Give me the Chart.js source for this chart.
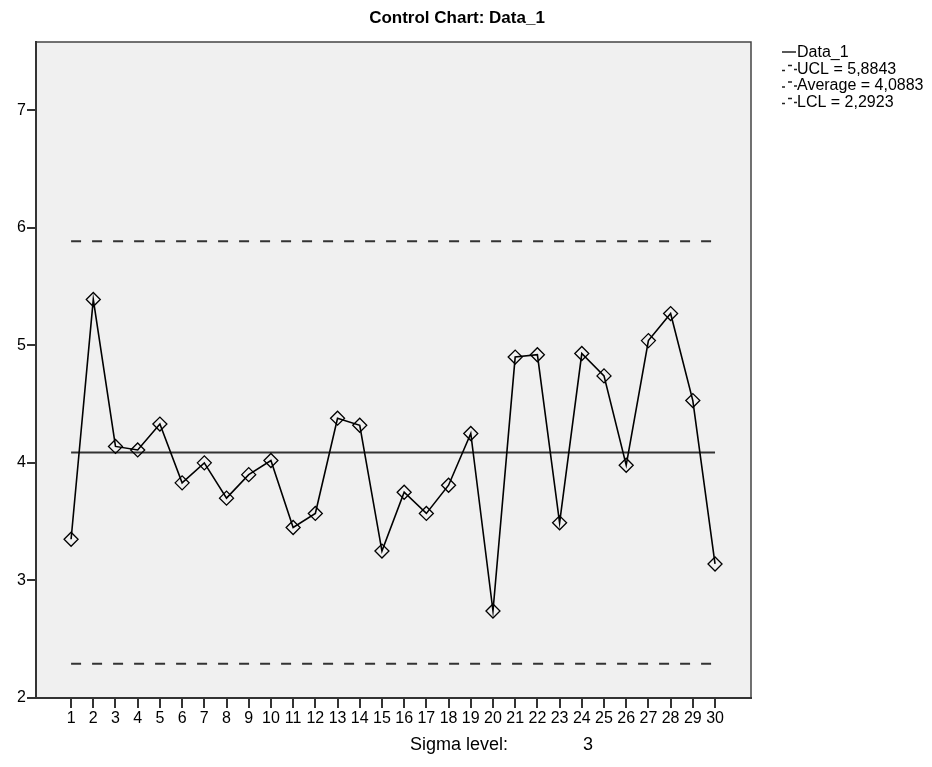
<!DOCTYPE html>
<html>
<head>
<meta charset="utf-8">
<script src="https://cdn.jsdelivr.net/npm/chart.js@4/dist/chart.umd.min.js"></script>
<style>
  body { margin: 0; background: #fff; }
  #wrap { width: 932px; height: 767px; }
</style>
</head>
<body>
<div id="wrap"><canvas id="control_chart" width="932" height="767"></canvas></div>
<script>
// samples 1..30
const samples = [1, 2, 3, 4, 5, 6, 7, 8, 9, 10, 11, 12, 13, 14, 15,
  16, 17, 18, 19, 20, 21, 22, 23, 24, 25, 26, 27, 28, 29, 30];
const data1 = [3.35, 5.39, 4.14, 4.11, 4.33, 3.83, 4.00, 3.70, 3.90, 4.02,
  3.45, 3.57, 4.38, 4.32, 3.25, 3.75, 3.57, 3.81, 4.25, 2.74,
  4.90, 4.92, 3.49, 4.93, 4.74, 3.98, 5.04, 5.27, 4.53, 3.14];
const ucl = 5.8843;
const average = 4.0883;
const lcl = 2.2923;
const yTicks = [2, 3, 4, 5, 6, 7];
const sigmaLevel = 3;

const FONT = "'Liberation Sans', Arial, sans-serif";

function limitLine(v) {
  return [{ x: samples[0], y: v }, { x: samples[samples.length - 1], y: v }];
}

const frame = {
  id: "frame",
  beforeDraw(chart) {
    const { ctx, chartArea: a } = chart;
    ctx.save();
    ctx.fillStyle = "#f0f0f0";
    ctx.fillRect(a.left, a.top, a.right - a.left, a.bottom - a.top);
    ctx.strokeStyle = "#444";
    ctx.lineWidth = 1.5;
    ctx.strokeRect(a.left, a.top, a.right - a.left, a.bottom - a.top);
    ctx.restore();
  },
  afterDraw(chart) {
    const ctx = chart.ctx;
    ctx.save();
    ctx.fillStyle = "#000";
    ctx.textBaseline = "middle";
    ctx.textAlign = "center";
    ctx.font = "bold 17px " + FONT;
    ctx.fillText("Control Chart: Data_1", 457, 18);

    ctx.textAlign = "left";
    ctx.font = "18px " + FONT;
    ctx.fillText("Sigma level:", 410, 745);
    ctx.fillText(String(sigmaLevel), 583, 745);

    // legend
    const items = [
      { text: "Data_1", dash: false },
      { text: "UCL = 5,8843", dash: true },
      { text: "Average = 4,0883", dash: true },
      { text: "LCL = 2,2923", dash: true },
    ];
    ctx.strokeStyle = "#222";
    ctx.lineWidth = 1.5;
    ctx.font = "16px " + FONT;
    items.forEach((it, i) => {
      const y = 52 + i * 16.5;
      ctx.beginPath();
      if (it.dash) {
        ctx.moveTo(782, y + 2); ctx.lineTo(785, y + 2);
        ctx.moveTo(788, y - 3); ctx.lineTo(792, y - 3);
        ctx.moveTo(794, y + 1); ctx.lineTo(797, y + 1);
      } else {
        ctx.moveTo(782, y);
        ctx.lineTo(796, y);
      }
      ctx.stroke();
      ctx.fillText(it.text, 797, y + 1);
    });
    ctx.restore();
  },
};

const ctx = document.getElementById("control_chart");
new Chart(ctx, {
  type: "line",
  data: {
    datasets: [
      {
        label: "Data_1",
        data: samples.map((s, i) => ({ x: s, y: data1[i] })),
        borderColor: "#000",
        borderWidth: 1.6,
        pointStyle: "rectRot",
        pointRadius: 7,
        pointBackgroundColor: "rgba(240,240,240,0)",
        pointBorderColor: "#000",
        pointBorderWidth: 1.3,
        tension: 0,
        order: 0,
      },
      {
        label: "UCL",
        data: limitLine(ucl),
        borderColor: "#333",
        borderWidth: 2,
        borderDash: [10, 11],
        pointRadius: 0,
        order: 1,
      },
      {
        label: "Average",
        data: limitLine(average),
        borderColor: "#333",
        borderWidth: 2,
        pointRadius: 0,
        order: 1,
      },
      {
        label: "LCL",
        data: limitLine(lcl),
        borderColor: "#333",
        borderWidth: 2,
        borderDash: [10, 11],
        pointRadius: 0,
        order: 1,
      },
    ],
  },
  options: {
    responsive: false,
    animation: false,
    layout: { padding: { left: 0, top: 42, right: 181, bottom: 0 } },
    plugins: { legend: { display: false }, title: { display: false }, tooltip: { enabled: false } },
    scales: {
      x: {
        type: "linear",
        min: -0.58,
        max: 31.62,
        afterBuildTicks: (scale) => { scale.ticks = samples.map((v) => ({ value: v })); },
        afterFit: (scale) => { scale.height = 69; },
        ticks: { autoSkip: false, maxRotation: 0, color: "#000", padding: 1, font: { family: FONT, size: 16 } },
        grid: { drawOnChartArea: false, drawTicks: true, tickLength: 10, color: "#333", lineWidth: 2 },
        border: { display: true, color: "#333", width: 2 },
      },
      y: {
        min: 2,
        max: 7.58,
        afterBuildTicks: (scale) => { scale.ticks = yTicks.map((v) => ({ value: v })); },
        afterFit: (scale) => { scale.width = 36; },
        ticks: { color: "#000", padding: 1, font: { family: FONT, size: 16 } },
        grid: { drawOnChartArea: false, drawTicks: true, tickLength: 9, color: "#333", lineWidth: 2 },
        border: { display: true, color: "#333", width: 2 },
      },
    },
  },
  plugins: [frame],
});
</script>
</body>
</html>
